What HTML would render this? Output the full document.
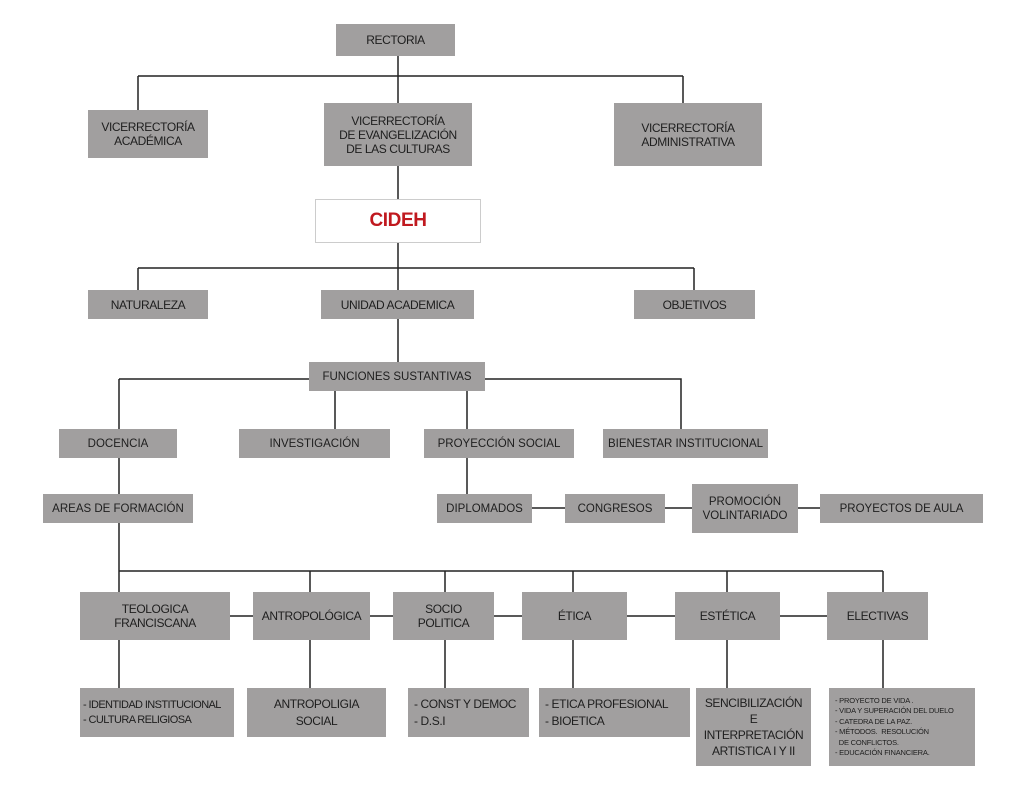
<!DOCTYPE html>
<html><head><meta charset="utf-8"><style>
body{margin:0;width:1024px;height:796px;background:#fff;position:relative;overflow:hidden;font-family:"Liberation Sans",sans-serif;}
.b{position:absolute;background:#a19f9f;color:#1e1e1e;display:flex;align-items:center;justify-content:center;text-align:center;font-size:12px;line-height:14px;box-sizing:border-box;white-space:nowrap;letter-spacing:-0.4px;}
.w{font-size:11.5px;letter-spacing:0;}
.l{justify-content:flex-start;text-align:left;padding-left:6px;}
svg{position:absolute;left:0;top:0;}
</style></head><body>
<svg width="1024" height="796"><g stroke="#222" stroke-width="1.5" fill="none">
<path d="M398 56V103M138 76H683M138 76V110M683 76V103"/>
<path d="M398 166V199M398 243V290M138 268H694M138 268V290M694 268V290"/>
<path d="M398 319V362M119 379H309M119 379V429M485 379H681V429M335 391V429M467 391V429"/>
<path d="M119 458V494M467 458V494M532 508H565M665 508H692M798 508H820"/>
<path d="M119 523V592M119 571H883M310 571V592M445 571V592M573 571V592M727 571V592M883 571V592"/>
<path d="M230 616H253M370 616H393M494 616H522M627 616H675M780 616H827"/>
<path d="M119 640V688M310 640V688M445 640V688M573 640V688M727 640V688M883 640V688"/>
</g></svg>
<div class="b" style="left:336px;top:24px;width:119px;height:32px">RECTORIA</div>
<div class="b" style="left:88px;top:110px;width:120px;height:48px">VICERRECTORÍA<br>ACADÉMICA</div>
<div class="b" style="left:324px;top:103px;width:148px;height:63px">VICERRECTORÍA<br>DE EVANGELIZACIÓN<br>DE LAS CULTURAS</div>
<div class="b" style="left:614px;top:103px;width:148px;height:63px">VICERRECTORÍA<br>ADMINISTRATIVA</div>
<div class="b" style="left:315px;top:199px;width:166px;height:44px;background:#fff;border:1px solid #ccc;color:#c0191f;font-weight:bold;font-size:19px">CIDEH</div>
<div class="b" style="left:88px;top:290px;width:120px;height:29px">NATURALEZA</div>
<div class="b" style="left:321px;top:290px;width:153px;height:29px">UNIDAD ACADEMICA</div>
<div class="b" style="left:634px;top:290px;width:121px;height:29px">OBJETIVOS</div>
<div class="b w" style="left:309px;top:362px;width:176px;height:29px">FUNCIONES SUSTANTIVAS</div>
<div class="b w" style="left:59px;top:429px;width:118px;height:29px">DOCENCIA</div>
<div class="b w" style="left:239px;top:429px;width:151px;height:29px">INVESTIGACIÓN</div>
<div class="b w" style="left:424px;top:429px;width:150px;height:29px">PROYECCIÓN SOCIAL</div>
<div class="b w" style="left:603px;top:429px;width:165px;height:29px">BIENESTAR INSTITUCIONAL</div>
<div class="b w" style="left:43px;top:494px;width:150px;height:29px">AREAS DE FORMACIÓN</div>
<div class="b w" style="left:437px;top:494px;width:95px;height:29px">DIPLOMADOS</div>
<div class="b w" style="left:565px;top:494px;width:100px;height:29px">CONGRESOS</div>
<div class="b w" style="left:692px;top:484px;width:106px;height:49px">PROMOCIÓN<br>VOLINTARIADO</div>
<div class="b w" style="left:820px;top:494px;width:163px;height:29px">PROYECTOS DE AULA</div>
<div class="b" style="left:80px;top:592px;width:150px;height:48px">TEOLOGICA<br>FRANCISCANA</div>
<div class="b" style="left:253px;top:592px;width:117px;height:48px">ANTROPOLÓGICA</div>
<div class="b" style="left:393px;top:592px;width:101px;height:48px">SOCIO<br>POLITICA</div>
<div class="b" style="left:522px;top:592px;width:105px;height:48px">ÉTICA</div>
<div class="b" style="left:675px;top:592px;width:105px;height:48px">ESTÉTICA</div>
<div class="b" style="left:827px;top:592px;width:101px;height:48px">ELECTIVAS</div>
<div class="b l" style="left:80px;top:688px;width:154px;height:49px;padding-left:3px;line-height:15px;font-size:11px;letter-spacing:-0.6px">- IDENTIDAD INSTITUCIONAL<br>- CULTURA RELIGIOSA</div>
<div class="b" style="left:247px;top:688px;width:139px;height:49px;line-height:17px">ANTROPOLIGIA<br>SOCIAL</div>
<div class="b l" style="left:408px;top:688px;width:121px;height:49px;line-height:17px">- CONST Y DEMOC<br>- D.S.I</div>
<div class="b l" style="left:539px;top:688px;width:151px;height:49px;line-height:17px">- ETICA PROFESIONAL<br>- BIOETICA</div>
<div class="b" style="left:696px;top:688px;width:115px;height:78px;line-height:16px">SENCIBILIZACIÓN<br>E<br>INTERPRETACIÓN<br>ARTISTICA I Y II</div>
<div class="b l" style="left:829px;top:688px;width:146px;height:78px;font-size:7.5px;line-height:10.5px;letter-spacing:-0.2px">- PROYECTO DE VIDA .<br>- VIDA Y SUPERACIÓN DEL DUELO<br>- CATEDRA DE LA PAZ.<br>- MÉTODOS.&nbsp; RESOLUCIÓN<br>&nbsp;&nbsp;DE CONFLICTOS.<br>- EDUCACIÓN FINANCIERA.</div>
</body></html>
